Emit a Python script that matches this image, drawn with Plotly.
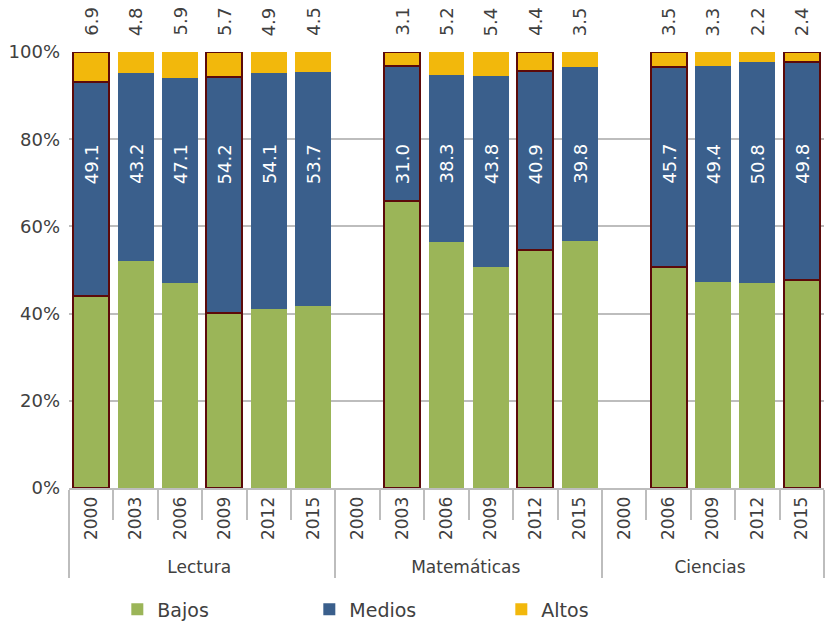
import plotly.graph_objects as go

# PISA performance levels by domain and cycle (percent of students)
groups = ["Lectura"] * 6 + ["Matemáticas"] * 6 + ["Ciencias"] * 5
years = ["2000", "2003", "2006", "2009", "2012", "2015",
         "2000", "2003", "2006", "2009", "2012", "2015",
         "2000", "2006", "2009", "2012", "2015"]

medios = [49.1, 43.2, 47.1, 54.2, 54.1, 53.7,
          None, 31.0, 38.3, 43.8, 40.9, 39.8,
          None, 45.7, 49.4, 50.8, 49.8]
altos = [6.9, 4.8, 5.9, 5.7, 4.9, 4.5,
         None, 3.1, 5.2, 5.4, 4.4, 3.5,
         None, 3.5, 3.3, 2.2, 2.4]
# cycles where the domain was the main one are outlined
enfasis = [True, False, False, True, False, False,
           False, True, False, False, True, False,
           False, True, False, False, True]

bajos = [None if m is None else round(100 - m - a, 1) for m, a in zip(medios, altos)]

y_ticks = [0, 20, 40, 60, 80, 100]
y_labels = [f"{v}%" for v in y_ticks]

FONT = "DejaVu Sans"
TXT = "#404040"
GRID = "#BDBDBD"
OUTLINE = "#5C0A0A"

niveles = [("Bajos", bajos, "#9BB558"),
           ("Medios", medios, "#3A5F8C"),
           ("Altos", altos, "#F2B80C")]

fig = go.Figure()
for name, vals, color in niveles:
    for emph in (False, True):
        yv = [v if e == emph else None for v, e in zip(vals, enfasis)]
        fig.add_bar(
            x=[groups, years], y=yv, name=name, legendgroup=name,
            showlegend=not emph, marker_color=color,
            marker_line=dict(color=OUTLINE, width=2 if emph else 0),
        )

# value labels: "Medios" inside the bars at a common height, "Altos" above the plot
for i, (m, a) in enumerate(zip(medios, altos)):
    if m is None:
        continue
    fig.add_annotation(
        x=i, y=74.3, xref="x", yref="y", text=f"{m:.1f}", textangle=-90,
        showarrow=False, font=dict(color="white", size=18, family=FONT),
        xanchor="center", yanchor="middle",
    )
    fig.add_annotation(
        x=i, y=100, xref="x", yref="y", text=f"{a:.1f}", textangle=-90,
        showarrow=False, font=dict(color=TXT, size=18, family=FONT),
        xanchor="center", yanchor="bottom", yshift=14,
    )

fig.update_layout(
    barmode="stack",
    bargap=0.19,
    width=825, height=624,
    margin=dict(l=69, r=1, t=52, b=136, autoexpand=False),
    plot_bgcolor="white", paper_bgcolor="white",
    font=dict(family=FONT, size=17, color=TXT),
    legend=dict(
        orientation="h", x=0.064, xanchor="left", y=-0.235, yanchor="top",
        font=dict(size=19), entrywidth=147, itemsizing="constant",
        traceorder="normal",
    ),
)
fig.update_yaxes(
    range=[0, 100], tickmode="array", tickvals=y_ticks, ticktext=y_labels,
    showgrid=True, gridcolor=GRID, gridwidth=1.5,
    zeroline=False, showline=False, ticks="", tickfont=dict(size=18),
    ticklabelstandoff=8,
)
fig.update_xaxes(
    type="multicategory", tickangle=-90, showline=True, linecolor=GRID,
    linewidth=2, ticks="outside", ticklen=30, tickcolor=GRID, tickwidth=2,
    showdividers=True, dividercolor=GRID, dividerwidth=2,
    tickfont=dict(size=17), automargin=False,
)

fig.write_html("out.html")
